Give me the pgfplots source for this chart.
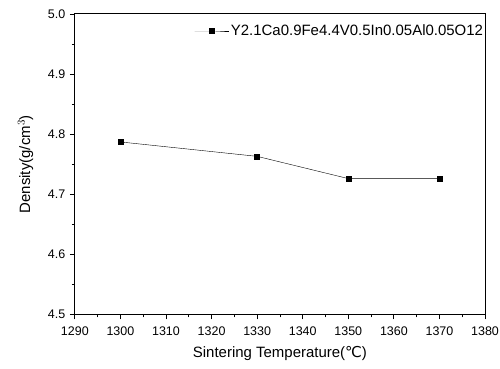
\documentclass[border=0pt]{standalone}
\usepackage{pgfplots}
\pgfplotsset{compat=1.18}
\usetikzlibrary{calc}
\usepackage{fontspec}
\setmainfont{Liberation Sans}
\newfontfamily\djv{DejaVu Sans}
\begin{document}
\begin{tikzpicture}
\begin{axis}[
  name=ax,
  scale only axis,
  width=411pt, height=301pt,
  xmin=1290, xmax=1380, ymin=4.5, ymax=5.0,
  xtick={1290,1300,...,1380},
  ytick={4.5,4.6,...,5.0},
  minor x tick num=1, minor y tick num=1,
  tick align=outside,
  tick pos=left,
  major tick length=5pt, minor tick length=3pt,
  every tick/.style={black, line width=0.8pt},
  axis line style={line width=1pt},
  /pgf/number format/assume math mode=true,
  /pgf/number format/fixed, /pgf/number format/fixed zerofill,
  xticklabel style={/pgf/number format/1000 sep={}, /pgf/number format/precision=0, font=\fontsize{12.5}{14}\selectfont, yshift=-4pt},
  yticklabel style={/pgf/number format/precision=1, font=\fontsize{12.5}{14}\selectfont, xshift=-1pt},
  xlabel={Sintering Temperature({\djv ℃})},
  ylabel={Density(g/cm$^{3}$)},
  xlabel style={yshift=-4pt},
  ylabel style={yshift=8pt},
  label style={font=\fontsize{15}{17}\selectfont},
  legend style={draw=none, fill=none, at={(1,0.944)}, anchor=east, font=\fontsize{15}{17}\selectfont, inner sep=0pt, outer sep=0pt,
    legend image code/.code={\draw[mark repeat=2, mark phase=2, #1] plot coordinates {(0pt,0pt) (17pt,0pt) (34pt,0pt)};}},
  legend cell align=left,
]
\addplot[black, thin, mark=square*, mark size=2.5pt] coordinates {
  (1300,4.787) (1330,4.763) (1350,4.726) (1370,4.726)
};
\addlegendentry{Y2.1Ca0.9Fe4.4V0.5In0.05Al0.05O12}
\end{axis}
\pgfresetboundingbox
\path ($(ax.south west)+(-75pt,-54pt)$) rectangle ($(ax.north east)+(15pt,14pt)$);
\end{tikzpicture}
\end{document}
